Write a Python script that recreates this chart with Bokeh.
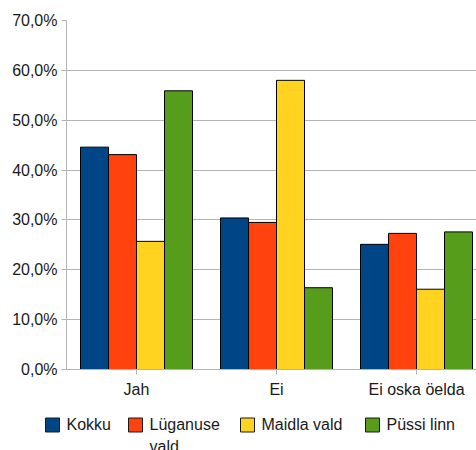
from bokeh.plotting import figure
from bokeh.models import Range1d, FixedTicker, ColumnDataSource
from bokeh.embed import file_html
from bokeh.resources import INLINE

categories = ["Jah", "Ei", "Ei oska öelda"]
series_names = ["Kokku", "Lüganuse\nvald", "Maidla vald", "Püssi linn"]
kokku = [44.6, 30.4, 25.1]
luganuse = [43.1, 29.5, 27.3]
maidla = [25.7, 58.0, 16.1]
pussi = [55.9, 16.4, 27.6]
colors = ["#004586", "#ff420e", "#ffd320", "#579d1c"]
y_ticks = [0, 10, 20, 30, 40, 50, 60, 70]
y_tick_labels = ["0,0%", "10,0%", "20,0%", "30,0%", "40,0%", "50,0%", "60,0%", "70,0%"]

FONT = "Liberation Sans"
TEXT_COLOR = "#1a1a1a"

p = figure(width=476, height=400, output_backend="svg", toolbar_location=None,
           x_range=Range1d(0, 410 / 140), y_range=Range1d(0, 70),
           min_border_left=66, min_border_right=0, min_border_top=20,
           min_border_bottom=29)
p.outline_line_color = None
p.background_fill_color = "white"
p.border_fill_color = "white"

all_series = [kokku, luganuse, maidla, pussi]
for j, vals in enumerate(all_series):
    xs = [i + 0.5 + (j - 1.5) * 0.2 for i in range(len(categories))]
    p.vbar(x=xs, top=vals, width=0.2, bottom=0, fill_color=colors[j],
           line_color="black", line_width=1)

# axes
p.xgrid.visible = False
p.ygrid.grid_line_color = "#b3b3b3"
p.ygrid.ticker = FixedTicker(ticks=y_ticks)

p.yaxis.ticker = FixedTicker(ticks=y_ticks)
p.yaxis.major_label_overrides = {t: l for t, l in zip(y_ticks, y_tick_labels)}
p.yaxis.axis_line_color = "#b3b3b3"
p.yaxis.major_tick_line_color = "#b3b3b3"
p.yaxis.major_tick_out = 5
p.yaxis.major_tick_in = 0
p.yaxis.minor_tick_line_color = None
p.yaxis.major_label_standoff = 4
p.yaxis.major_label_text_font = FONT
p.yaxis.major_label_text_font_size = "16px"
p.yaxis.major_label_text_color = TEXT_COLOR

x_ticks = [i + 0.5 for i in range(len(categories))]
p.xaxis.ticker = FixedTicker(ticks=x_ticks)
p.xaxis.major_label_overrides = {t: c for t, c in zip(x_ticks, categories)}
p.xaxis.axis_line_color = "#b3b3b3"
p.xaxis.major_tick_line_color = "#b3b3b3"
p.xaxis.major_tick_out = 5
p.xaxis.major_tick_in = 0
p.xaxis.minor_tick_line_color = None
p.xaxis.major_label_standoff = 6
p.xaxis.major_label_text_font = FONT
p.xaxis.major_label_text_font_size = "16px"
p.xaxis.major_label_text_color = TEXT_COLOR

# legend drawn as its own strip below the chart (screen-pixel coordinates)
legend_x = [45, 128, 240, 365]   # left edge of each legend swatch
LH = 50
lg = figure(width=476, height=LH, output_backend="svg", toolbar_location=None,
            x_range=Range1d(0, 476), y_range=Range1d(LH, 0),
            x_axis_location=None, y_axis_location=None,
            min_border=0, min_border_left=0, min_border_right=0,
            min_border_top=0, min_border_bottom=0)
lg.grid.visible = False
lg.outline_line_color = None
lg.background_fill_color = "white"
lg.border_fill_color = "white"

sw = 14
src_sw = ColumnDataSource(dict(x=[x + sw / 2 for x in legend_x], y=[24.5] * 4, c=colors))
lg.rect(x="x", y="y", width=sw, height=sw, fill_color="c", line_color="#1a1a1a",
        line_width=1, source=src_sw)
src_tx = ColumnDataSource(dict(x=[x + sw + 7 for x in legend_x], y=[15.5] * 4, t=series_names))
lg.text(x="x", y="y", text="t", source=src_tx, text_font_size="16px",
        text_color=TEXT_COLOR, text_baseline="top", text_align="left",
        text_line_height=1.3, text_font={"value": FONT})

open("out.html", "w").write(file_html([p, lg], INLINE))
